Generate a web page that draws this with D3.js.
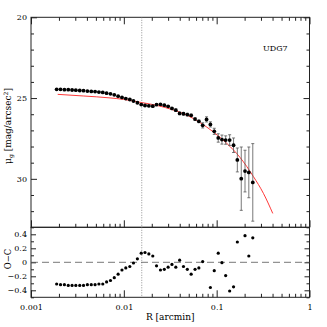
<!DOCTYPE html>
<meta charset="utf-8">
<style>

body {
  margin: 0;
  background: #fff;
}

text {
  font-family: "DejaVu Serif", serif;
  fill: #000;
}

.tick line {
  stroke: #222;
}

.tick text {
  font-size: 8px;
}

.domain {
  display: none;
}

.frame {
  fill: none;
  stroke: #222;
  stroke-width: 1;
}

</style>
<body>
<script src="https://d3js.org/d3.v7.min.js"></script>
<script>

// radius of each isophote [arcmin]
var radius = [0.00189, 0.00208, 0.00229, 0.00252, 0.00277, 0.00304, 0.00335, 0.00368, 0.00405, 0.00446,
              0.00490, 0.00539, 0.00593, 0.00652, 0.00718, 0.00789, 0.00868, 0.00955, 0.0105, 0.0116,
              0.0127, 0.0140, 0.0154, 0.0169, 0.0186, 0.0205, 0.0225, 0.0248, 0.0273, 0.0300,
              0.0330, 0.0363, 0.0399, 0.0439, 0.0483, 0.0531, 0.0585, 0.0643, 0.0707, 0.0778,
              0.0856, 0.0942, 0.104, 0.114, 0.125, 0.138, 0.152, 0.167, 0.184, 0.202,
              0.222, 0.245];

// surface brightness mu_g [mag/arcsec^2]
var mu = [24.46, 24.46, 24.48, 24.48, 24.50, 24.51, 24.53, 24.54, 24.57, 24.59,
          24.60, 24.63, 24.65, 24.70, 24.74, 24.80, 24.88, 24.96, 25.03, 25.09,
          25.18, 25.29, 25.40, 25.46, 25.48, 25.50, 25.41, 25.39, 25.44, 25.51,
          25.64, 25.75, 25.95, 25.97, 26.02, 26.07, 26.30, 26.44, 26.69, 26.32,
          26.63, 27.06, 27.47, 27.57, 27.60, 27.60, 27.92, 28.83, 29.99, 29.52,
          29.60, 30.22];

var muErr = [0.03, 0.03, 0.03, 0.03, 0.03, 0.03, 0.03, 0.03, 0.03, 0.03,
             0.03, 0.03, 0.03, 0.03, 0.03, 0.03, 0.03, 0.03, 0.03, 0.03,
             0.03, 0.05, 0.05, 0.05, 0.05, 0.05, 0.05, 0.05, 0.05, 0.05,
             0.05, 0.08, 0.08, 0.08, 0.08, 0.08, 0.08, 0.08, 0.16, 0.16,
             0.16, 0.19, 0.26, 0.28, 0.26, 0.33, 0.45, 0.74, 1.96, 1.29,
             1.57, 2.40];

// observed minus computed (null = off the plotted range)
var oc = [-0.31, -0.32, -0.32, -0.33, -0.33, -0.33, -0.33, -0.33, -0.32, -0.32,
          -0.32, -0.31, -0.31, -0.28, -0.26, -0.22, -0.17, -0.11, -0.08, -0.06,
          -0.01, 0.05, 0.13, 0.14, 0.12, 0.09, -0.05, -0.11, -0.10, -0.07,
          -0.03, -0.07, 0.03, -0.06, -0.10, -0.17, -0.10, -0.08, 0.01, null,
          -0.36, -0.12, 0.13, -0.005, -0.19, -0.41, -0.35, 0.29, null, 0.38,
          0.09, 0.35];

// model fit (red curve)
var fitR = [0.00194, 0.00366, 0.00710, 0.00989, 0.01558, 0.0226, 0.0342, 0.0476,
            0.0663, 0.0922, 0.1284, 0.1788, 0.2488, 0.319, 0.402];
var fitMu = [24.77, 24.87, 24.99, 25.08, 25.28, 25.45, 25.74, 26.05,
             26.52, 27.10, 27.80, 28.68, 29.86, 30.90, 32.14];

var rCut = 0.0156;
var xMajor = [0.001, 0.01, 0.1, 1];
var xLabels = ["0.001", "0.01", "0.1", "1"];
var muMajor = [20, 25, 30];
var muMinor = [21, 22, 23, 24, 26, 27, 28, 29, 31, 32];
var ocMajor = [-0.4, -0.2, 0, 0.2, 0.4];
var ocMinor = [-0.5, -0.3, -0.1, 0.1, 0.3, 0.5];
var galaxy = "UDG7";

var width = 327, height = 327;

var svg = d3.select("body").append("svg")
    .attr("width", width)
    .attr("height", height);

var x = d3.scaleLog().domain([0.001, 1]).range([31, 309.5]);
var yTop = d3.scaleLinear().domain([20, 33]).range([17.3, 227.3]);
var yBot = d3.scaleLinear().domain([0.5, -0.5]).range([227.3, 297.3]);

var xMinor = x.ticks().filter(function(v) {
  var l = Math.log10(v);
  return Math.abs(l - Math.round(l)) > 1e-6;
});

function addAxis(axis, tx, ty, vals, size, fmt) {
  var g = svg.append("g")
      .attr("transform", "translate(" + tx + "," + ty + ")")
      .call(axis.tickValues(vals).tickSize(size).tickPadding(4).tickFormat(fmt || ""));
  return g;
}

var left = x.range()[0], right = x.range()[1];

// ---- top panel axes
addAxis(d3.axisBottom(x), 0, yTop.range()[1], xMajor, -7);
addAxis(d3.axisBottom(x), 0, yTop.range()[1], xMinor, -3.5);
addAxis(d3.axisTop(x), 0, yTop.range()[0], xMajor, -7);
addAxis(d3.axisTop(x), 0, yTop.range()[0], xMinor, -3.5);
addAxis(d3.axisLeft(yTop), left, 0, muMajor, -6, d3.format("d"));
addAxis(d3.axisLeft(yTop), left, 0, muMinor, -3);
addAxis(d3.axisRight(yTop), right, 0, muMajor, -6);
addAxis(d3.axisRight(yTop), right, 0, muMinor, -3);

// ---- bottom panel axes
addAxis(d3.axisBottom(x), 0, yBot.range()[1], xMajor, -7, function(d, i) { return xLabels[i]; })
    .selectAll("text").attr("dy", "1.1em");
addAxis(d3.axisBottom(x), 0, yBot.range()[1], xMinor, -3.5);
addAxis(d3.axisLeft(yBot), left, 0, ocMajor, -5, function(d) { return d === 0 ? "0" : d3.format(".1f")(d); });
addAxis(d3.axisLeft(yBot), left, 0, ocMinor, -3);
addAxis(d3.axisRight(yBot), right, 0, ocMajor, -5);
addAxis(d3.axisRight(yBot), right, 0, ocMinor, -3);

// frames
svg.append("rect").attr("class", "frame")
    .attr("x", left).attr("y", yTop.range()[0])
    .attr("width", right - left).attr("height", yTop.range()[1] - yTop.range()[0]);
svg.append("rect").attr("class", "frame")
    .attr("x", left).attr("y", yBot.range()[0])
    .attr("width", right - left).attr("height", yBot.range()[1] - yBot.range()[0]);

// vertical dotted line through both panels
svg.append("line")
    .attr("x1", x(rCut)).attr("x2", x(rCut))
    .attr("y1", yTop.range()[0]).attr("y2", yBot.range()[1])
    .attr("stroke", "#777").attr("stroke-width", 0.8)
    .attr("stroke-dasharray", "1,1.5");

// zero line in residual panel
svg.append("line")
    .attr("x1", left).attr("x2", right)
    .attr("y1", yBot(0)).attr("y2", yBot(0))
    .attr("stroke", "#555").attr("stroke-width", 0.8)
    .attr("stroke-dasharray", "7,4");

// model curve
var fit = fitR.map(function(r, i) { return [r, fitMu[i]]; });
svg.append("path")
    .datum(fit)
    .attr("fill", "none")
    .attr("stroke", "#f22")
    .attr("stroke-width", 0.9)
    .attr("d", d3.line()
        .x(function(d) { return x(d[0]); })
        .y(function(d) { return yTop(d[1]); })
        .curve(d3.curveMonotoneX));

// data points with error bars
var pts = radius.map(function(r, i) { return {r: r, mu: mu[i], err: muErr[i], oc: oc[i]}; });

var eb = svg.append("g").attr("stroke", "#555").attr("stroke-width", 0.8);
eb.selectAll(".bar")
    .data(pts)
  .enter().append("line")
    .attr("x1", function(d) { return x(d.r); })
    .attr("x2", function(d) { return x(d.r); })
    .attr("y1", function(d) { return yTop(d.mu - d.err); })
    .attr("y2", function(d) { return yTop(d.mu + d.err); });
eb.selectAll(".capTop")
    .data(pts)
  .enter().append("line")
    .attr("x1", function(d) { return x(d.r) - 1.5; })
    .attr("x2", function(d) { return x(d.r) + 1.5; })
    .attr("y1", function(d) { return yTop(d.mu - d.err); })
    .attr("y2", function(d) { return yTop(d.mu - d.err); });
eb.selectAll(".capBot")
    .data(pts)
  .enter().append("line")
    .attr("x1", function(d) { return x(d.r) - 1.5; })
    .attr("x2", function(d) { return x(d.r) + 1.5; })
    .attr("y1", function(d) { return yTop(d.mu + d.err); })
    .attr("y2", function(d) { return yTop(d.mu + d.err); });

svg.append("g").selectAll("circle")
    .data(pts)
  .enter().append("circle")
    .attr("cx", function(d) { return x(d.r); })
    .attr("cy", function(d) { return yTop(d.mu); })
    .attr("r", 1.9)
    .attr("fill", "#000");

svg.append("g").selectAll("circle")
    .data(pts.filter(function(d) { return d.oc !== null; }))
  .enter().append("circle")
    .attr("cx", function(d) { return x(d.r); })
    .attr("cy", function(d) { return yBot(d.oc); })
    .attr("r", 1.6)
    .attr("fill", "#000");

// labels
svg.append("text")
    .attr("x", 263).attr("y", 50.5)
    .style("font-size", "8px")
    .text(galaxy);

var yl = svg.append("text")
    .attr("transform", "translate(11,126) rotate(-90)")
    .attr("text-anchor", "middle")
    .style("font-size", "9px");
yl.append("tspan").text("\u03bc");
yl.append("tspan").attr("dy", 2).style("font-size", "6px").text("g");
yl.append("tspan").attr("dy", -2).text(" [mag/arcsec");
yl.append("tspan").attr("dy", -3).style("font-size", "6px").text("2");
yl.append("tspan").attr("dy", 3).text("]");

svg.append("text")
    .attr("transform", "translate(11,259) rotate(-90)")
    .attr("text-anchor", "middle")
    .style("font-size", "8.5px")
    .text("O\u2212C");

svg.append("text")
    .attr("x", (left + right) / 2).attr("y", 320)
    .attr("text-anchor", "middle")
    .style("font-size", "9px")
    .text("R [arcmin]");

</script>
